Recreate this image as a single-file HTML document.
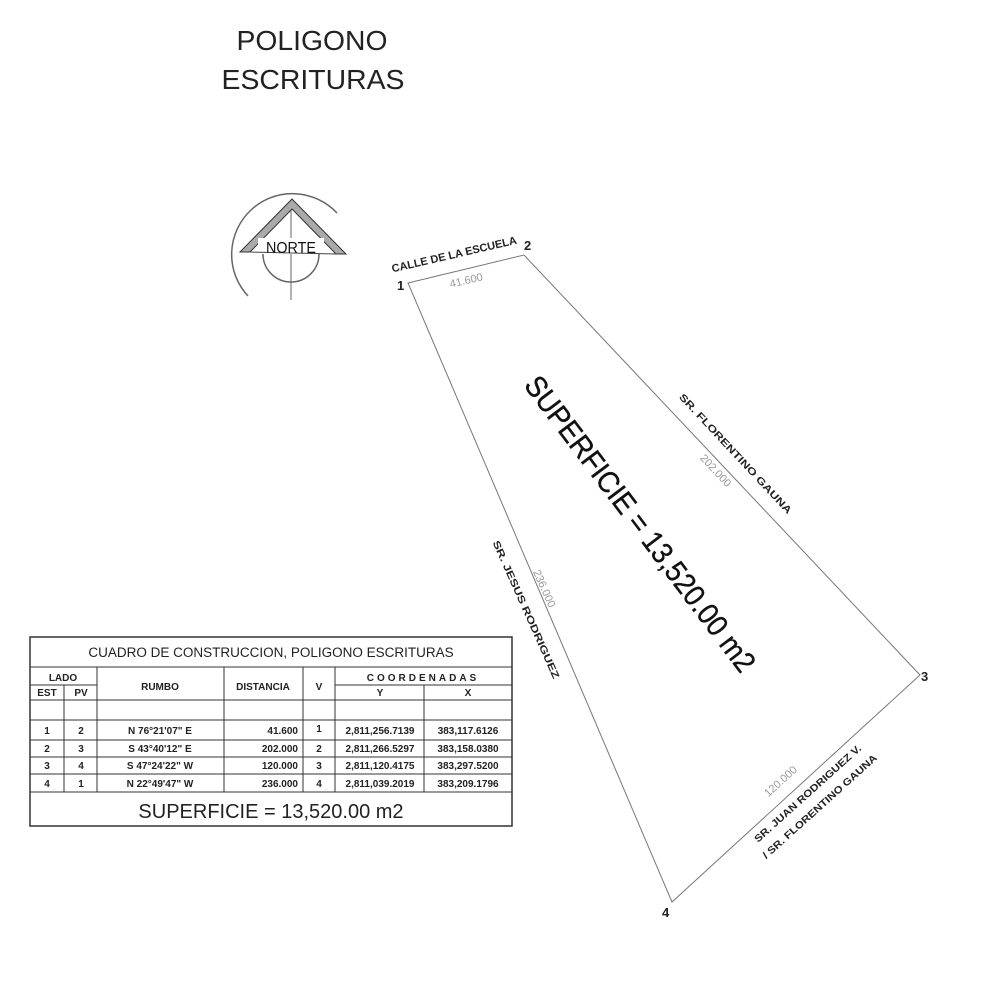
<!DOCTYPE html>
<html><head><meta charset="utf-8"><style>
html,body{margin:0;padding:0;background:#fff;}
svg{display:block;}
text{font-family:"Liberation Sans",Arial,sans-serif;}
</style></head><body>
<svg width="986" height="992" viewBox="0 0 986 992" xmlns="http://www.w3.org/2000/svg">
<rect width="986" height="992" fill="#fff"/>
<text x="312" y="50" font-size="28" text-anchor="middle" fill="#222" textLength="151" lengthAdjust="spacingAndGlyphs">POLIGONO</text>
<text x="313" y="89" font-size="28" text-anchor="middle" fill="#222" textLength="183" lengthAdjust="spacingAndGlyphs">ESCRITURAS</text>

<!-- compass -->
<g fill="none" stroke="#666" stroke-width="1.5">
<path d="M248 296 A58 58 0 1 1 337 213"/>
<path d="M263 254 A28 28 0 0 0 319 254"/>
<line x1="291" y1="200" x2="291" y2="300" stroke-width="1"/>
</g>
<polygon points="240,252 292,199 346,254 336,254 292,209 250,252" fill="#aaa" stroke="#333" stroke-width="1"/>
<rect x="258" y="238" width="66" height="16" fill="#fff"/>
<line x1="250" y1="252" x2="336" y2="254" stroke="#444" stroke-width="1"/>
<text x="291" y="253" font-size="16" text-anchor="middle" fill="#111" textLength="50" lengthAdjust="spacingAndGlyphs">NORTE</text>

<!-- polygon -->
<polygon points="408,283 524,255 920,675 672,902" fill="none" stroke="#777" stroke-width="1"/>
<text x="397" y="290" font-size="13" font-weight="bold" fill="#222">1</text>
<text x="524" y="250" font-size="13" font-weight="bold" fill="#222">2</text>
<text x="921" y="681" font-size="13" font-weight="bold" fill="#222">3</text>
<text x="662" y="917" font-size="13" font-weight="bold" fill="#222">4</text>

<text transform="translate(455,258) rotate(-13)" font-size="11" font-weight="bold" text-anchor="middle" fill="#222">CALLE DE LA ESCUELA</text>
<text transform="translate(467,284) rotate(-13)" font-size="11" text-anchor="middle" fill="#999">41.600</text>

<text transform="translate(733,456) rotate(47)" font-size="10" font-weight="bold" text-anchor="middle" fill="#222" textLength="160" lengthAdjust="spacingAndGlyphs">SR. FLORENTINO GAUNA</text>
<text transform="translate(713,473) rotate(47)" font-size="11" text-anchor="middle" fill="#999">202.000</text>

<text transform="translate(523,611) rotate(66)" font-size="10" font-weight="bold" text-anchor="middle" fill="#222" textLength="150" lengthAdjust="spacingAndGlyphs">SR. JESUS RODRIGUEZ</text>
<text transform="translate(541,590) rotate(66)" font-size="11" text-anchor="middle" fill="#999">236.000</text>

<text transform="translate(783,784) rotate(-42)" font-size="11" text-anchor="middle" fill="#999">120.000</text>
<text transform="translate(810,796) rotate(-42)" font-size="10" font-weight="bold" text-anchor="middle" fill="#222" textLength="140" lengthAdjust="spacingAndGlyphs">SR. JUAN RODRIGUEZ V.</text>
<text transform="translate(822,809) rotate(-42)" font-size="10" font-weight="bold" text-anchor="middle" fill="#222" textLength="150" lengthAdjust="spacingAndGlyphs">/ SR. FLORENTINO GAUNA</text>

<text transform="translate(632,530) rotate(53)" font-family="DejaVu Sans, sans-serif" font-size="30" text-anchor="middle" fill="#111" stroke="#111" stroke-width="0.4" textLength="362" lengthAdjust="spacingAndGlyphs">SUPERFICIE = 13,520.00 m2</text>

<!-- table -->
<g stroke="#333" fill="none" stroke-width="1">
<rect x="30" y="637" width="482" height="189" stroke-width="1.5"/>
<line x1="30" y1="667" x2="512" y2="667"/>
<line x1="30" y1="685" x2="97" y2="685"/>
<line x1="335" y1="685" x2="512" y2="685"/>
<line x1="30" y1="700" x2="512" y2="700"/>
<line x1="30" y1="720" x2="512" y2="720"/>
<line x1="30" y1="740" x2="512" y2="740"/>
<line x1="30" y1="757" x2="512" y2="757"/>
<line x1="30" y1="774" x2="512" y2="774"/>
<line x1="30" y1="792" x2="512" y2="792"/>
<line x1="64" y1="685" x2="64" y2="792"/>
<line x1="97" y1="667" x2="97" y2="792"/>
<line x1="224" y1="667" x2="224" y2="792"/>
<line x1="303" y1="667" x2="303" y2="792"/>
<line x1="335" y1="667" x2="335" y2="792"/>
<line x1="424" y1="685" x2="424" y2="792"/>
</g>
<g fill="#222" font-size="10" font-weight="bold" text-anchor="middle">
<text x="271" y="657" font-size="13.5" font-weight="normal">CUADRO DE CONSTRUCCION, POLIGONO ESCRITURAS</text>
<text x="63" y="681">LADO</text>
<text x="47" y="696">EST</text>
<text x="81" y="696">PV</text>
<text x="160" y="690">RUMBO</text>
<text x="263" y="690">DISTANCIA</text>
<text x="319" y="690">V</text>
<text x="423" y="681" letter-spacing="3">COORDENADAS</text>
<text x="380" y="696">Y</text>
<text x="468" y="696">X</text>
<text x="47" y="734">1</text><text x="81" y="734">2</text><text x="160" y="734">N 76°21'07" E</text><text x="298" y="734" text-anchor="end">41.600</text><text x="319" y="732">1</text><text x="380" y="734">2,811,256.7139</text><text x="468" y="734">383,117.6126</text>
<text x="47" y="752">2</text><text x="81" y="752">3</text><text x="160" y="752">S 43°40'12" E</text><text x="298" y="752" text-anchor="end">202.000</text><text x="319" y="752">2</text><text x="380" y="752">2,811,266.5297</text><text x="468" y="752">383,158.0380</text>
<text x="47" y="769">3</text><text x="81" y="769">4</text><text x="160" y="769">S 47°24'22" W</text><text x="298" y="769" text-anchor="end">120.000</text><text x="319" y="769">3</text><text x="380" y="769">2,811,120.4175</text><text x="468" y="769">383,297.5200</text>
<text x="47" y="787">4</text><text x="81" y="787">1</text><text x="160" y="787">N 22°49'47" W</text><text x="298" y="787" text-anchor="end">236.000</text><text x="319" y="787">4</text><text x="380" y="787">2,811,039.2019</text><text x="468" y="787">383,209.1796</text>
<text x="271" y="818" font-size="20" font-weight="normal">SUPERFICIE = 13,520.00 m2</text>
</g>
</svg>
</body></html>
